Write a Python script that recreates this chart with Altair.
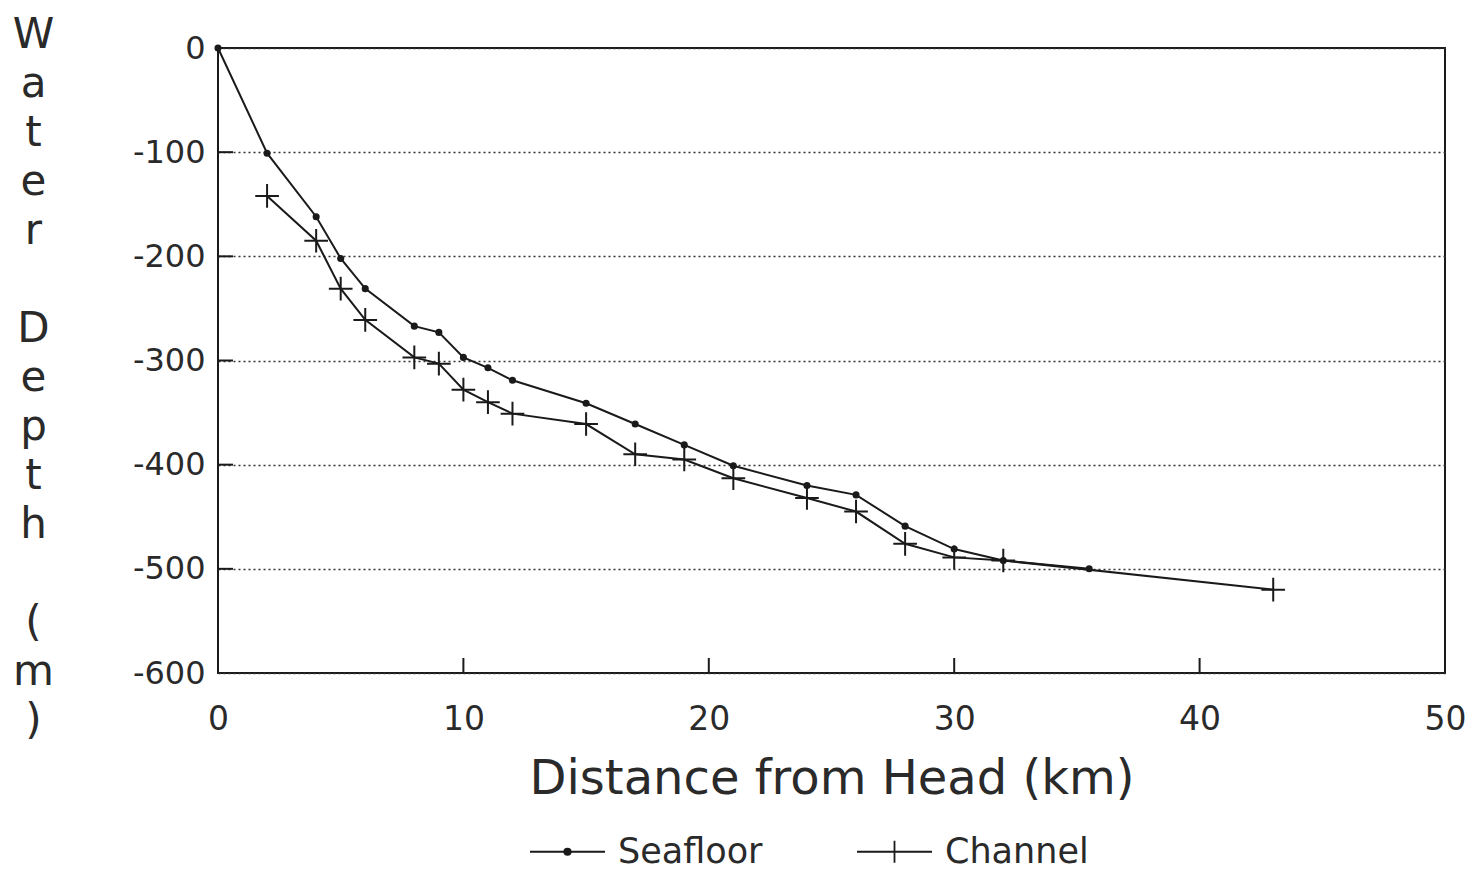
import altair as alt
import pandas as pd

# ---- data ----
sea_x = [0, 2, 4, 5, 6, 8, 9, 10, 11, 12, 15, 17, 19, 21, 24, 26, 28, 30, 32, 35.5]
sea_y = [0, -101, -162, -202, -231, -267, -273, -297, -307, -319, -341, -361, -381, -401, -420, -429, -459, -481, -492, -500]

chan_x = [2, 4, 5, 6, 8, 9, 10, 11, 12, 15, 17, 19, 21, 24, 26, 28, 30, 32, 43]
chan_y = [-142, -185, -231, -261, -297, -303, -328, -340, -351, -361, -390, -395, -413, -432, -445, -476, -489, -492, -520]

series_names = ["Seafloor", "Channel"]
x_ticks = [0, 10, 20, 30, 40, 50]
y_ticks = [0, -100, -200, -300, -400, -500, -600]
x_inner_ticks = [10, 20, 30, 40]
y_inner_ticks = [-100, -200, -300, -400, -500]

BL = "\u2800"  # blank line placeholder
y_title = ["W", "a", "t", "e", "r", BL, "D", "e", "p", "t", "h", BL, "(", "m", ")"]

df = pd.concat([
    pd.DataFrame({"x": sea_x, "y": sea_y, "series": series_names[0]}),
    pd.DataFrame({"x": chan_x, "y": chan_y, "series": series_names[1]}),
], ignore_index=True)

W, H = 1227, 625
FONT = "DejaVu Sans"
INK = "#1a1a1a"
TXT = "#2a2a2a"

xscale = alt.Scale(domain=[0, 50], nice=False, zero=False)
yscale = alt.Scale(domain=[-600, 0], nice=False, zero=False)

xaxis = alt.Axis(values=x_ticks, grid=False, ticks=False, domain=False,
                 labelFontSize=33, labelFont=FONT, labelColor=TXT, labelPadding=30,
                 title="Distance from Head (km)", titleFontSize=48, titleFont=FONT,
                 titleFontWeight="normal", titleColor=TXT, titleBaseline="alphabetic",
                 titleY=120, labelFlush=False)
yaxis = alt.Axis(values=y_ticks, grid=True, gridDash=[2, 3], gridColor="#333",
                 gridWidth=1.3, ticks=False, domain=False,
                 labelExpr="datum.value < 0 ? '-' + format(-datum.value, 'd') : format(datum.value, 'd')",
                 labelFontSize=32, labelFont=FONT, labelColor=TXT, labelPadding=13,
                 title=y_title, titleAngle=0, titleFontSize=42, titleFont=FONT,
                 titleFontWeight="normal", titleColor=TXT, titleAlign="center",
                 titleBaseline="top", titleX=-185, titleY=-34, titleLineHeight=49)

base = alt.Chart(df)

lines = base.mark_line(color=INK, strokeWidth=2).encode(
    x=alt.X("x:Q", scale=xscale, axis=xaxis),
    y=alt.Y("y:Q", scale=yscale, axis=yaxis),
    detail="series:N",
)

sea_pts = base.transform_filter(alt.datum.series == "Seafloor").mark_point(
    shape="circle", filled=True, size=50, color=INK, opacity=1
).encode(x="x:Q", y="y:Q")

chan_pts = base.transform_filter(alt.datum.series == "Channel").mark_point(
    shape="M-1,0H1M0,-1V1", filled=False, size=560, color=INK, strokeWidth=2, opacity=1
).encode(x="x:Q", y="y:Q")

# legend symbols: size 400 -> 10px per path unit; lines span 75px
legend_paths = [
    "M-3.75,0H3.75"
    "M-0.32,0A0.32,0.32,0,1,0,0.32,0A0.32,0.32,0,1,0,-0.32,0"
    "M-0.16,0A0.16,0.16,0,1,0,0.16,0A0.16,0.16,0,1,0,-0.16,0",
    "M-3.75,0H3.75M0,-1.1V1.1",
]
legend_layer = base.mark_point(opacity=0, filled=False, color=INK, strokeWidth=1.8).encode(
    x="x:Q", y="y:Q",
    shape=alt.Shape("series:N",
                    scale=alt.Scale(domain=series_names, range=legend_paths),
                    legend=alt.Legend(title=None, orient="none", direction="horizontal",
                                      legendX=332, legendY=786, padding=0,
                                      symbolSize=400, symbolOpacity=1,
                                      symbolStrokeColor=INK,
                                      symbolStrokeWidth=1.8, labelFontSize=35,
                                      labelFont=FONT, labelColor=TXT, labelOffset=33,
                                      columnPadding=90, labelLimit=400)),
)

ytick_df = pd.DataFrame({"v": y_inner_ticks})
xtick_df = pd.DataFrame({"v": x_inner_ticks})
yticks = alt.Chart(ytick_df).mark_rule(color=INK, strokeWidth=2).encode(
    y=alt.Y("v:Q", scale=yscale), x=alt.value(0), x2=alt.value(15))
xticks = alt.Chart(xtick_df).mark_rule(color=INK, strokeWidth=2).encode(
    x=alt.X("v:Q", scale=xscale), y=alt.value(H), y2=alt.value(H - 15))

chart = alt.layer(yticks, xticks, lines, sea_pts, chan_pts, legend_layer).properties(
    width=W, height=H,
    autosize=alt.AutoSizeParams(type="none"),
    padding={"left": 210, "top": 40, "right": 20, "bottom": 198},
    background="white",
).configure_view(stroke=INK, strokeWidth=2)

chart.save("out.html", embed_options={"renderer": "svg", "actions": False})
